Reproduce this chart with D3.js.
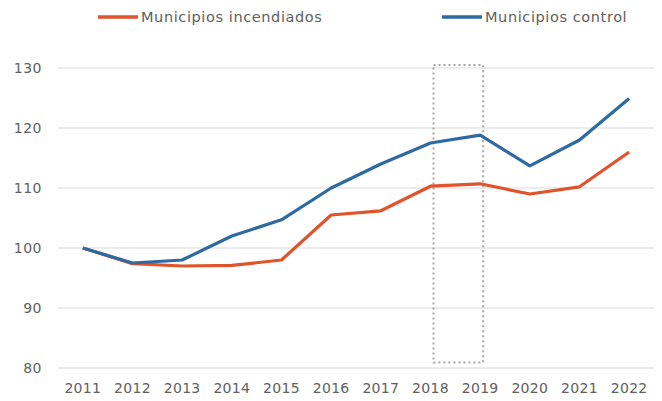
<!DOCTYPE html>
<html lang="es">
  <head>
    <meta charset="utf-8" />
    <title>Municipios incendiados vs control</title>
    <script src="https://cdn.jsdelivr.net/npm/d3@7"></script>
    <style>
      body { margin: 0; background: white; }
      text { font-family: "DejaVu Sans", sans-serif; fill: #606060; }
    </style>
  </head>
  <body>
    <script>
var years = ["2011", "2012", "2013", "2014", "2015", "2016", "2017", "2018", "2019", "2020", "2021", "2022"];
var incendiados = [100, 97.4, 97.0, 97.1, 98.0, 105.5, 106.2, 110.3, 110.7, 109.0, 110.2, 116.0];
var control = [100, 97.5, 98.0, 102.0, 104.7, 110.0, 114.0, 117.5, 118.8, 113.7, 118.0, 124.9];
var yTicks = [80, 90, 100, 110, 120, 130];
var highlight = ["2018", "2019"]; // periodo marcado con recuadro punteado

var w = 662, h = 401;
var pad = { left: 58, right: 8, top: 68, bottom: 33 };

var svg = d3.select("body").append("svg")
            .attr("width", w)
            .attr("height", h);

var x = d3.scalePoint()
          .domain(years)
          .range([pad.left, w - pad.right])
          .padding(0.5);
var y = d3.scaleLinear()
          .domain([80, 130])
          .range([h - pad.bottom, pad.top]);

// gridlines
svg.append("g")
   .selectAll("line")
   .data(yTicks)
   .enter()
   .append("line")
   .attr("x1", pad.left)
   .attr("x2", w - pad.right)
   .attr("y1", function(d) { return y(d); })
   .attr("y2", function(d) { return y(d); })
   .attr("stroke", "#d9d9d9")
   .attr("stroke-width", 1);

// y labels
svg.append("g")
   .selectAll("text")
   .data(yTicks)
   .enter()
   .append("text")
   .text(function(d) { return d; })
   .attr("x", 42)
   .attr("y", function(d) { return y(d) + 5; })
   .attr("text-anchor", "end")
   .attr("font-size", "14px")
   .attr("letter-spacing", "0.5px");

// x labels
svg.append("g")
   .selectAll("text")
   .data(years)
   .enter()
   .append("text")
   .text(function(d) { return d; })
   .attr("x", function(d) { return x(d); })
   .attr("y", 393)
   .attr("text-anchor", "middle")
   .attr("font-size", "14px")
   .attr("letter-spacing", "0.3px");

// dotted box
var bx0 = x(highlight[0]) + 3, bx1 = x(highlight[1]) + 3;
svg.append("rect")
   .attr("x", bx0)
   .attr("y", y(130.5))
   .attr("width", bx1 - bx0)
   .attr("height", y(80.9) - y(130.5))
   .attr("fill", "none")
   .attr("stroke", "#a6a6a6")
   .attr("stroke-width", 2)
   .attr("stroke-dasharray", "2,3");

var line = d3.line()
             .x(function(d, i) { return x(years[i]); })
             .y(function(d) { return y(d); });

var series = [
  { name: "Municipios incendiados", values: incendiados, color: "#e0532b" },
  { name: "Municipios control", values: control, color: "#2e6aa2" }
];

svg.append("g")
   .selectAll("path")
   .data(series)
   .enter()
   .append("path")
   .attr("d", function(d) { return line(d.values); })
   .attr("fill", "none")
   .attr("stroke", function(d) { return d.color; })
   .attr("stroke-width", 3.2)
   .attr("stroke-linejoin", "round");

// legend
var legendX = [98, 442];
var leg = svg.append("g")
             .selectAll("g")
             .data(series)
             .enter()
             .append("g")
             .attr("transform", function(d, i) { return "translate(" + legendX[i] + ",17)"; });
leg.append("line")
   .attr("x1", 0)
   .attr("x2", 40)
   .attr("stroke", function(d) { return d.color; })
   .attr("stroke-width", 3.5);
leg.append("text")
   .text(function(d) { return d.name; })
   .attr("x", 43)
   .attr("y", 5)
   .attr("font-size", "14.5px")
   .attr("letter-spacing", "0.6px");
    </script>
  </body>
</html>
